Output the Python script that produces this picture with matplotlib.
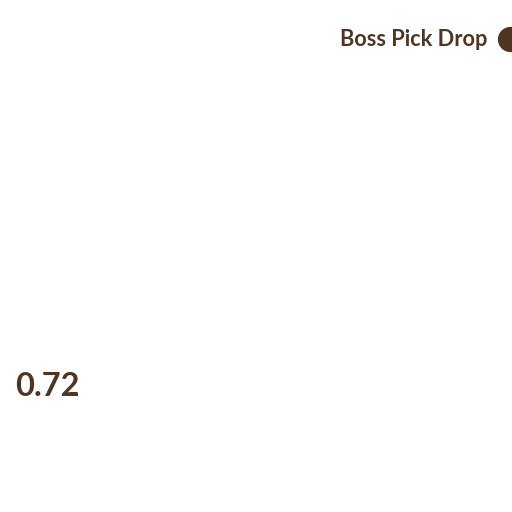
import matplotlib.pyplot as plt

# data
series_name = "Boss Pick Drop"
values = [0.72]
value_labels = ["0.72"]

brown = "#4f3523"
plt.rcParams['font.family'] = ['Lato', 'DejaVu Sans']

fig = plt.figure(figsize=(5.12, 5.12), dpi=100)
ax = fig.add_axes([0, 0, 1, 1])
ax.set_xlim(0, 512)
ax.set_ylim(512, 0)
ax.axis('off')

# legend entry
ax.text(487, 40, series_name, ha='right', va='center', fontsize=15.7,
        fontweight='bold', color=brown)
ax.scatter([510], [39], s=330, color=brown, linewidths=0, clip_on=True)

# value label
for v, lab in zip(values, value_labels):
    ax.text(15, 386, lab, ha='left', va='center', fontsize=23.5,
            fontweight='bold', color=brown)

fig.savefig("out.png", dpi=100)
